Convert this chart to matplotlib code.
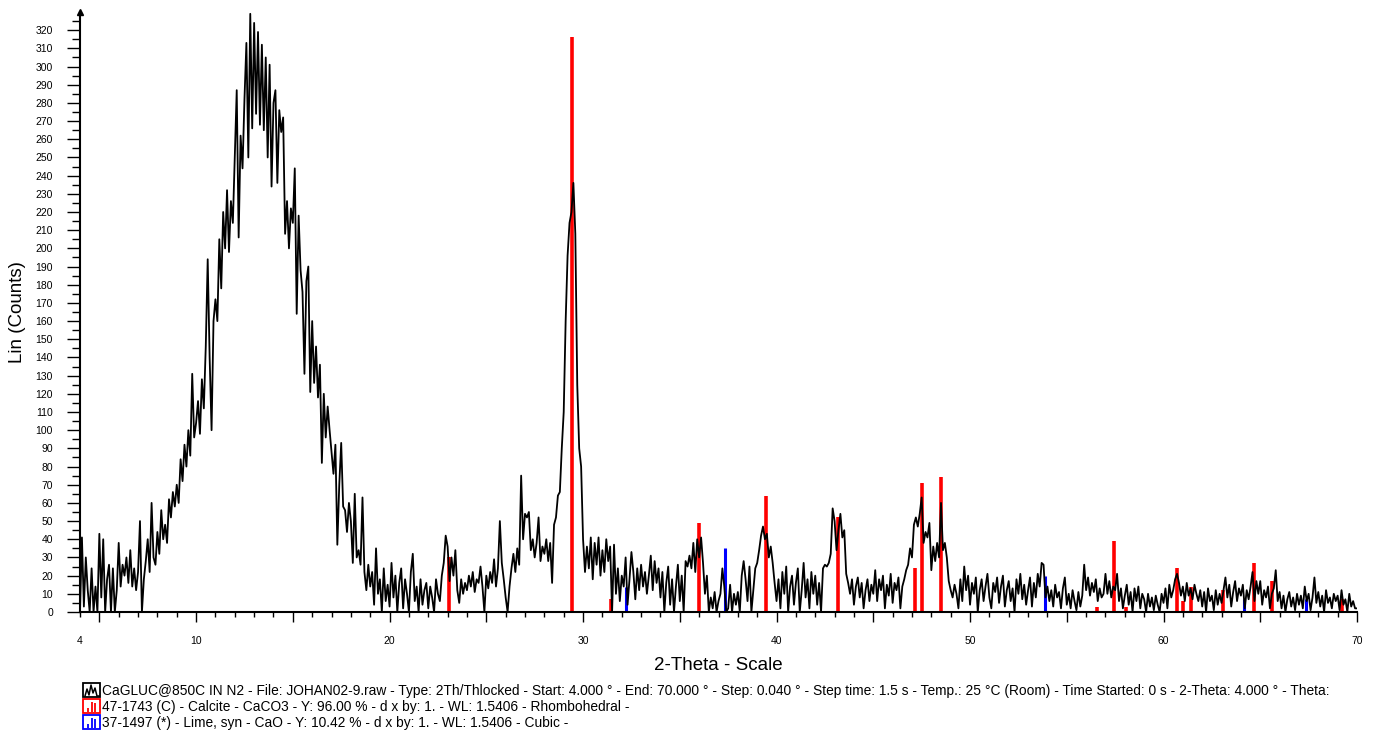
import numpy as np
import matplotlib.pyplot as plt
from matplotlib.ticker import FixedLocator
from matplotlib.patches import Rectangle

plt.rcParams['font.family'] = ['Liberation Sans', 'DejaVu Sans']

# ----------------------------------------------------------------------
# Scan: CaGLUC@850C in N2, read off at 0.1 deg steps from 4 to 70 deg
# ----------------------------------------------------------------------
SCAN_START = 4.0
SCAN_STEP = 0.1

counts = [
    0, 41, 3, 30, 12, 0, 24, 0, 14, 0,            # 4
    43, 8, 40, 0, 18, 26, 0, 24, 0, 12,           # 5
    38, 14, 26, 20, 30, 16, 34, 14, 24, 12,       # 6
    22, 50, 0, 18, 28, 40, 22, 60, 30, 26,        # 7
    44, 32, 56, 40, 48, 38, 62, 52, 66, 58,       # 8
    70, 60, 84, 72, 92, 80, 100, 86, 131, 96,     # 9
    104, 116, 98, 128, 112, 146, 194, 140, 100, 160,   # 10
    172, 160, 205, 178, 220, 200, 232, 198, 226, 214,  # 11
    250, 287, 206, 262, 244, 282, 313, 250, 329, 266,  # 12
    324, 274, 319, 268, 312, 265, 305, 250, 301, 234,  # 13
    280, 287, 236, 276, 264, 272, 208, 226, 200, 222,  # 14
    214, 244, 164, 218, 188, 176, 131, 182, 190, 121,  # 15
    160, 126, 146, 118, 136, 82, 120, 96, 113, 100,    # 16
    88, 76, 92, 37, 70, 93, 58, 56, 44, 60,       # 17
    50, 27, 65, 30, 34, 26, 63, 22, 12, 26,       # 18
    14, 22, 4, 35, 10, 18, 0, 24, 6, 15,          # 19
    3, 27, 8, 20, 0, 16, 24, 2, 18, 10,           # 20
    0, 22, 32, 6, 14, 0, 18, 4, 12, 16,           # 21
    2, 14, 8, 0, 18, 10, 6, 20, 27, 42,           # 22
    36, 17, 30, 20, 34, 12, 5, 18, 10, 16,        # 23
    12, 20, 14, 22, 11, 18, 16, 25, 14, 0,        # 24
    20, 13, 22, 16, 29, 14, 24, 50, 27, 18,       # 25
    8, 0, 14, 24, 32, 22, 35, 26, 75, 40,         # 26
    54, 52, 55, 34, 40, 30, 38, 52, 28, 36,       # 27
    32, 40, 28, 38, 16, 48, 52, 64, 66, 90,       # 28
    110, 160, 196, 214, 220, 236, 208, 125, 90, 80,    # 29
    40, 22, 36, 24, 41, 18, 38, 26, 41, 20,       # 30
    34, 22, 40, 28, 36, 0, 37, 10, 24, 6,         # 31
    20, 14, 30, 4, 18, 33, 22, 7, 24, 12,         # 32
    26, 14, 22, 10, 20, 31, 12, 28, 16, 24,       # 33
    8, 22, 0, 16, 25, 4, 18, 0, 14, 26,           # 34
    6, 20, 0, 28, 25, 31, 24, 38, 22, 40,         # 35
    30, 41, 27, 10, 20, 0, 8, 2, 11, 0,           # 36
    6, 10, 24, 14, 0, 2, 15, 0, 10, 4,            # 37
    11, 0, 20, 28, 18, 6, 25, 0, 12, 24,          # 38
    27, 34, 42, 47, 40, 43, 30, 36, 27, 16,       # 39
    6, 18, 2, 22, 10, 25, 0, 14, 20, 4,           # 40
    16, 24, 0, 12, 27, 8, 18, 2, 22, 10,          # 41
    20, 4, 16, 0, 24, 26, 25, 27, 32, 57,         # 42
    50, 34, 45, 54, 41, 45, 21, 16, 10, 18,       # 43
    4, 14, 19, 8, 16, 2, 12, 18, 6, 15,           # 44
    10, 23, 6, 18, 12, 20, 2, 15, 9, 21,          # 45
    5, 16, 12, 19, 2, 14, 18, 23, 26, 35,         # 46
    30, 48, 52, 47, 54, 63, 38, 44, 41, 49,       # 47
    23, 36, 28, 38, 30, 60, 34, 38, 30, 17,       # 48
    12, 8, 15, 10, 2, 18, 6, 25, 12, 20,          # 49
    4, 16, 10, 19, 0, 12, 18, 6, 14, 21,          # 50
    8, 2, 16, 11, 19, 5, 14, 20, 3, 12,           # 51
    17, 6, 13, 0, 18, 10, 21, 7, 15, 4,           # 52
    12, 19, 3, 16, 8, 21, 14, 27, 26, 8,          # 53
    14, 6, 12, 3, 15, 8, 11, 2, 13, 19,           # 54
    4, 10, 2, 12, 6, 1, 11, 3, 9, 26,             # 55
    12, 19, 9, 16, 11, 18, 6, 13, 8, 10,          # 56
    21, 10, 17, 8, 14, 12, 21, 6, 13, 2,          # 57
    9, 15, 4, 11, 0, 13, 6, 14, 2, 10,            # 58
    7, 0, 10, 3, 8, 1, 9, 4, 0, 10,               # 59
    5, 13, 2, 15, 8, 12, 18, 21, 16, 9,           # 60
    14, 6, 16, 9, 13, 7, 15, 10, 6, 12,           # 61
    3, 11, 0, 13, 6, 9, 1, 12, 4, 10,             # 62
    5, 12, 19, 8, 15, 3, 11, 17, 6, 13,           # 63
    9, 15, 2, 12, 7, 14, 22, 6, 17, 10,           # 64
    17, 4, 12, 8, 14, 2, 10, 13, 23, 6,           # 65
    11, 2, 9, 0, 7, 11, 3, 8, 1, 10,              # 66
    4, 9, 2, 14, 6, 10, 1, 8, 19, 5,              # 67
    11, 3, 9, 0, 12, 5, 8, 2, 10, 6,              # 68
    9, 1, 12, 4, 7, 0, 10, 3, 6, 2,               # 69
    2,                                            # 70
]
two_theta = SCAN_START + SCAN_STEP * np.arange(len(counts))

# Reference patterns (stick positions in 2-theta, heights in counts)
calcite_2theta = [23.05, 29.42, 31.44, 36.00, 39.45, 43.18, 47.15, 47.52,
                  48.52, 56.57, 57.42, 58.08, 60.68, 61.00, 61.42, 63.05,
                  64.68, 65.62, 69.20]
calcite_counts = [30, 316, 7, 49, 64, 52, 24, 71, 74, 3, 39, 3, 24, 6, 14,
                  12, 27, 17, 7]

lime_2theta = [32.22, 37.36, 53.88, 64.15, 67.38]
lime_counts = [14, 35, 20, 7, 7]

y_ticks = list(range(0, 321, 10))
y_minor = list(range(5, 326, 10))
x_ticks = [4] + list(range(5, 71, 5))
x_minor = list(range(5, 71))

legend_lines = [
    "CaGLUC@850C IN N2 - File: JOHAN02-9.raw - Type: 2Th/Thlocked - Start: 4.000 ° - "
    "End: 70.000 ° - Step: 0.040 ° - Step time: 1.5 s - Temp.: 25 °C (Room) - "
    "Time Started: 0 s - 2-Theta: 4.000 ° - Theta:",
    "47-1743 (C) - Calcite - CaCO3 - Y: 96.00 % - d x by: 1. - WL: 1.5406 - Rhombohedral -",
    "37-1497 (*) - Lime, syn - CaO - Y: 10.42 % - d x by: 1. - WL: 1.5406 - Cubic -",
]
legend_colors = ["black", "#ff0000", "#0000ff"]

W, H = 1373, 734
fig = plt.figure(figsize=(W / 100, H / 100), dpi=100)
ax = fig.add_axes([80 / W, 1 - 612 / H, 1277 / W, 600 / H])

ax.vlines(calcite_2theta, 0, calcite_counts, colors="#ff0000", lw=2.6, zorder=2)
ax.vlines(lime_2theta, 0, lime_counts, colors="#0000ff", lw=2.2, zorder=2)
ax.plot(two_theta, counts, color="black", lw=1.3, zorder=3)

ax.set_xlim(4, 70)
ax.set_ylim(0, 330)

for side in ("top", "right"):
    ax.spines[side].set_visible(False)
for side in ("left", "bottom"):
    ax.spines[side].set_linewidth(1.5)

# y axis: labels every 10, half-steps as minor ticks
ax.yaxis.set_major_locator(FixedLocator(y_ticks))
ax.yaxis.set_minor_locator(FixedLocator(y_minor))
ax.tick_params(axis="y", which="major", length=9.5, width=1.0, labelsize=7.5, pad=10)
ax.tick_params(axis="y", which="minor", length=5.5, width=1.0)

# x axis: long ticks every 5, labels at 4 and every 10, minor every 1
ax.xaxis.set_major_locator(FixedLocator(x_ticks))
ax.set_xticklabels([str(v) if (v == 4 or v % 10 == 0) else "" for v in x_ticks])
ax.xaxis.set_minor_locator(FixedLocator(x_minor))
ax.tick_params(axis="x", which="major", length=7, width=1.0, labelsize=7.5, pad=10)
ax.tick_params(axis="x", which="minor", length=3.8, width=1.0)
ax.xaxis.get_major_ticks()[0].tick1line.set_markersize(3.8)

# little arrow head on top of the y axis
ax.plot([4], [1.0], marker="^", color="black", markersize=5,
        transform=ax.get_xaxis_transform(), clip_on=False)

fig.text(718.5 / W, 1 - 665 / H, "2-Theta - Scale", ha="center", va="center", fontsize=13.5)
fig.text(18 / W, 1 - 312 / H, "Lin (Counts)", ha="center", va="center",
         rotation=90, fontsize=13.5)

# legend block under the plot, drawn in pixel coordinates
ov = fig.add_axes([0, 0, 1, 1], zorder=-1)
ov.set_xlim(0, W)
ov.set_ylim(H, 0)
ov.axis("off")

row_y = [690, 706, 722]
for y, txt, col in zip(row_y, legend_lines, legend_colors):
    ov.add_patch(Rectangle((83, y - 7), 17, 14, fill=False, edgecolor=col, lw=1.3))
    ov.text(102, y + 0.5, txt, va="center", ha="left", fontsize=9.9)

# scan icon: small peak pattern
ov.plot([85, 87, 89, 91, 93, 95, 97, 99], [696, 689, 695, 685, 693, 688, 696, 696],
        color="black", lw=1.1)
# stick icons
for y, col in zip(row_y[1:], legend_colors[1:]):
    ov.vlines([88, 91.5, 95], [y + 6, y + 6, y + 6], [y + 2, y - 4, y - 3], colors=col, lw=1.3)

fig.savefig("out.png", dpi=100)
